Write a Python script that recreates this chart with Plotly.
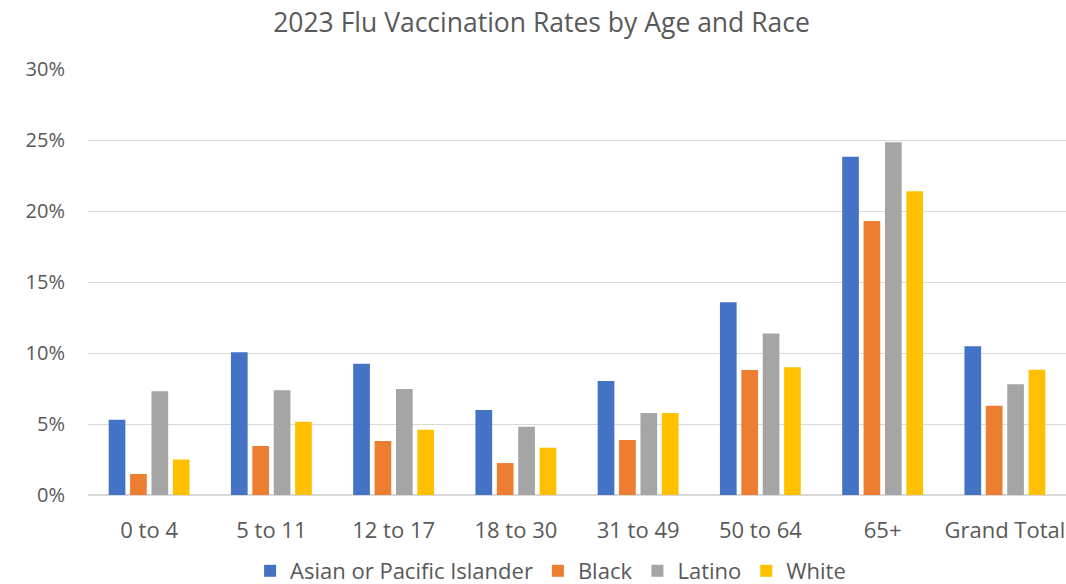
import plotly.graph_objects as go

categories = ["0 to 4", "5 to 11", "12 to 17", "18 to 30", "31 to 49", "50 to 64", "65+", "Grand Total"]
asian = [5.3, 10.05, 9.25, 5.98, 8.02, 13.58, 23.82, 10.47]
black = [1.48, 3.45, 3.8, 2.25, 3.87, 8.8, 19.3, 6.28]
latino = [7.3, 7.38, 7.46, 4.8, 5.77, 11.38, 24.84, 7.8]
white = [2.5, 5.16, 4.6, 3.33, 5.77, 9.0, 21.39, 8.82]
series_names = ["Asian or Pacific Islander", "Black", "Latino", "White"]
colors = ["#4472C4", "#ED7D31", "#A5A5A5", "#FFC000"]

fig = go.Figure()
for name, vals, col in zip(series_names, [asian, black, latino, white], colors):
    fig.add_trace(go.Bar(x=categories, y=[v / 100 for v in vals], name=name,
                         marker=dict(color=col, line=dict(width=0))))

FONT = "Open Sans, Calibri, sans-serif"
fig.update_layout(
    width=1066, height=584,
    paper_bgcolor="white", plot_bgcolor="white",
    margin=dict(l=88, r=0, t=69, b=89, autoexpand=False),
    title=dict(text="2023 Flu Vaccination Rates by Age and Race", x=0.508, xanchor="center",
               y=1 - 23 / 584, yref="container", yanchor="middle",
               font=dict(family=FONT, size=26.5, color="#595959")),
    barmode="group", bargap=0.3, bargroupgap=0.22,
    font=dict(family=FONT, size=22, color="#595959"),
    yaxis=dict(range=[0, 0.3], tickvals=[0, 0.05, 0.1, 0.15, 0.2, 0.25, 0.3], tickformat=".0%",
               showgrid=True, gridcolor="#D9D9D9", gridwidth=1, zeroline=True, zerolinecolor="#D9D9D9",
               ticks="", ticklen=0, ticklabelstandoff=22, automargin=False,
               tickfont=dict(size=20, color="#595959"), fixedrange=True),
    xaxis=dict(showline=False, ticks="", ticklabelstandoff=20, automargin=False,
               tickfont=dict(size=22, color="#595959"), fixedrange=True),
    legend=dict(orientation="h", x=0.473, xanchor="center", yref="container", y=13 / 584, yanchor="middle",
                font=dict(size=22, color="#595959"), itemsizing="constant", traceorder="normal"),
)
fig.write_html("out.html", config={"displayModeBar": False},
               post_script="document.body.style.margin='0';document.body.style.padding='0';")
